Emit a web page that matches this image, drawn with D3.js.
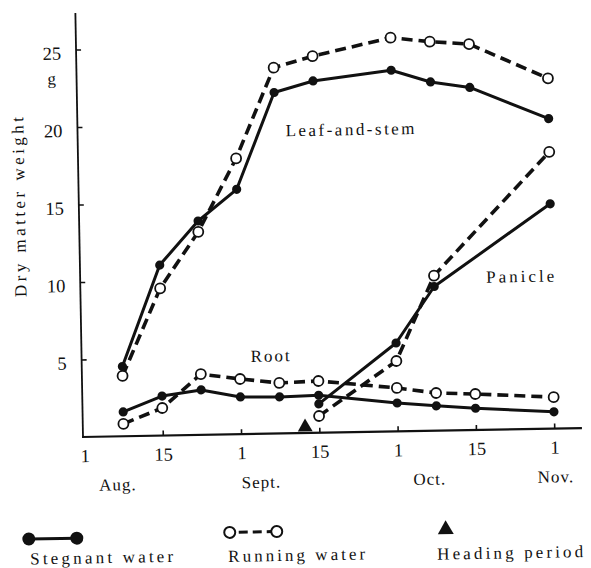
<!DOCTYPE html>
<html><head><meta charset="utf-8">
<script src="https://cdn.jsdelivr.net/npm/d3@7"></script>
<style>html,body{margin:0;padding:0;background:#fff;} svg{display:block;}</style>
</head><body>
<svg id="chart" width="591" height="568"></svg>
<script>
// ---- data (x positions in half-month units: 0 = Aug 1, 1 = Aug 15, 2 = Sept 1, ...) ----
const sampleDates = ["Aug 8","Aug 15","Aug 23","Sept 1","Sept 8","Sept 15","Oct 1","Oct 8","Oct 15","Nov 1"];
const samplePos = [0.5, 1, 1.5, 2, 2.5, 3, 4, 4.5, 5, 6];
const leafStagnant = [4.5, 11.0, 13.8, 15.8, 22.0, 22.7, 23.3, 22.5, 22.1, 20.0];
const leafRunning  = [3.9, 9.5, 13.1, 17.8, 23.6, 24.3, 25.4, 25.1, 24.9, 22.6];
const rootStagnant = [1.57, 2.55, 2.9, 2.4, 2.36, 2.42, 1.83, 1.6, 1.4, 1.08];
const rootRunning  = [0.8, 1.78, 3.92, 3.56, 3.26, 3.34, 2.8, 2.43, 2.32, 2.03];
const panicleDates = ["Sept 15","Oct 1","Oct 8","Nov 1"];
const paniclePos = [3, 4, 4.5, 6];
const panicleStagnant = [1.86, 5.7, 9.3, 14.5];
const panicleRunning  = [1.08, 4.54, 10.0, 17.85];
const headingPos = [2.82];
const xTickPos = [0, 1, 2, 3, 4, 5, 6];
const xTickLabels = ["1", "15", "1", "15", "1", "15", "1"];
const monthLabels = ["Aug.", "Sept.", "Oct.", "Nov."];
const yTicks = [5, 10, 15, 20, 25];

// ---- layout ----
const svg = d3.select("#chart");
const ox = 83, oy = 437;
const g = svg.append("g").attr("transform", `rotate(-1.03, ${ox}, ${oy})`);
const FONT = "'Liberation Serif', 'Times New Roman', serif";
const INK = "#111";

const x = d3.scaleLinear().domain([0, 6]).range([84.5, 84.5 + 6 * 78.3]);
const y = d3.scaleLinear().domain([0, 25]).range([oy, oy - 25 * 15.5]);

// axis lines
g.append("line").attr("x1", ox).attr("y1", oy + 1).attr("x2", ox).attr("y2", 13)
  .attr("stroke", INK).attr("stroke-width", 1.8);
g.append("line").attr("x1", ox - 1).attr("y1", oy).attr("x2", 582).attr("y2", oy)
  .attr("stroke", INK).attr("stroke-width", 2.2);

// y axis (ticks pointing inward)
const yAxis = g.append("g").attr("transform", `translate(${ox},0)`)
  .call(d3.axisLeft(y).tickValues(yTicks).tickSizeInner(-5).tickSizeOuter(0).tickPadding(15));
yAxis.select(".domain").remove();
yAxis.selectAll("line").attr("stroke", INK).attr("stroke-width", 1.6);
yAxis.selectAll("text").attr("font-family", FONT).attr("font-size", 18.5).attr("fill", INK).attr("dy", "0.5em");
g.append("text").attr("x", 58).attr("y", 84).attr("text-anchor", "middle")
  .attr("font-family", FONT).attr("font-size", 17).attr("fill", INK).text("g");

// x axis
const xAxis = g.append("g").attr("transform", `translate(0,${oy})`)
  .call(d3.axisBottom(x).tickValues(xTickPos).tickFormat((d, i) => xTickLabels[i])
    .tickSizeInner(-5).tickSizeOuter(0).tickPadding(12));
xAxis.select(".domain").remove();
xAxis.selectAll("line").attr("stroke", INK).attr("stroke-width", 1.6)
  .filter(d => d === 0).remove();
xAxis.selectAll("text").attr("font-family", FONT).attr("font-size", 18.5).attr("fill", INK);

const monthAt = [0.415, 2.25, 4.4, 6.01];
g.selectAll("text.month").data(monthLabels).join("text").attr("class", "month")
  .attr("x", (d, i) => x(monthAt[i])).attr("y", 491).attr("text-anchor", "middle")
  .attr("font-family", FONT).attr("font-size", 17).attr("letter-spacing", 1).attr("fill", INK)
  .text(d => d);

// y label
g.append("text").attr("transform", "translate(29,206) rotate(-90)")
  .attr("text-anchor", "middle").attr("font-family", FONT).attr("font-size", 17)
  .attr("fill", INK).attr("textLength", 180).attr("lengthAdjust", "spacing")
  .text("Dry matter weight");

// series
const series = [
  {pos: samplePos, vals: leafRunning, run: true},
  {pos: samplePos, vals: rootRunning, run: true},
  {pos: paniclePos, vals: panicleRunning, run: true},
  {pos: samplePos, vals: leafStagnant, run: false},
  {pos: samplePos, vals: rootStagnant, run: false},
  {pos: paniclePos, vals: panicleStagnant, run: false}
];
const line = d3.line().x(d => x(d[0])).y(d => y(d[1]));
series.forEach(s => {
  const pts = s.pos.map((p, i) => [p, s.vals[i]]);
  g.append("path").datum(pts).attr("d", line).attr("fill", "none")
    .attr("stroke", INK).attr("stroke-width", s.run ? 3.6 : 3)
    .attr("stroke-dasharray", s.run ? "11 6" : null)
    .attr("stroke-linejoin", "round");
});
series.filter(s => !s.run).forEach(s => {
  g.append("g").selectAll("circle").data(s.pos.map((p, i) => [p, s.vals[i]])).join("circle")
    .attr("cx", d => x(d[0])).attr("cy", d => y(d[1])).attr("r", 4.6).attr("fill", INK);
});
series.filter(s => s.run).forEach(s => {
  g.append("g").selectAll("circle").data(s.pos.map((p, i) => [p, s.vals[i]])).join("circle")
    .attr("cx", d => x(d[0])).attr("cy", d => y(d[1])).attr("r", 5)
    .attr("fill", "#fff").attr("stroke", INK).attr("stroke-width", 1.8);
});

// heading period marker
const tri = d3.symbol().type(d3.symbolTriangle).size(95);
g.selectAll("path.heading").data(headingPos).join("path").attr("class", "heading")
  .attr("d", tri).attr("transform", d => `translate(${x(d)},${oy - 6})`).attr("fill", INK);

// series labels
const lab = (t, px, py, len) => g.append("text").attr("x", px).attr("y", py)
  .attr("font-family", FONT).attr("font-size", 17).attr("fill", INK)
  .attr("textLength", len).attr("lengthAdjust", "spacing").text(t);
lab("Leaf-and-stem", 291, 140, 129);
lab("Root", 252, 365, 39);
lab("Panicle", 489, 290, 68);

// legend
g.append("line").attr("x1", 27).attr("y1", 538).attr("x2", 75).attr("y2", 538)
  .attr("stroke", INK).attr("stroke-width", 3);
[27, 75].forEach(cx => g.append("circle").attr("cx", cx).attr("cy", 538).attr("r", 6.5).attr("fill", INK));
g.append("line").attr("x1", 233).attr("y1", 535).attr("x2", 270).attr("y2", 535)
  .attr("stroke", INK).attr("stroke-width", 3).attr("stroke-dasharray", "9 5").attr("stroke-dashoffset", -4);
[228, 275].forEach(cx => g.append("circle").attr("cx", cx).attr("cy", 535).attr("r", 5.5)
  .attr("fill", "#fff").attr("stroke", INK).attr("stroke-width", 2));
g.append("path").attr("d", d3.symbol().type(d3.symbolTriangle).size(110))
  .attr("transform", "translate(444,536)").attr("fill", INK);
lab("Stegnant water", 28, 563.5, 143);
lab("Running water", 226, 564.5, 137);
lab("Heading period", 435, 566, 146);
</script>
</body></html>
